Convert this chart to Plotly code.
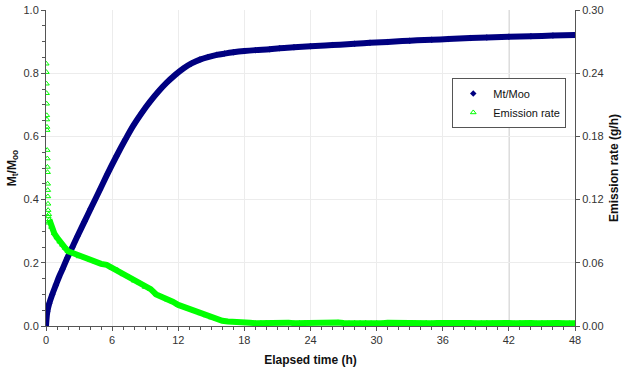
import plotly.graph_objects as go

# ---- data ----
mt_time = [0, 0.12, 0.3, 0.57, 0.9, 1.18, 1.5, 1.93, 2.4, 2.84, 3.5, 4.05, 4.9, 5.6, 6.4, 7.2,
           7.92, 8.7, 9.44, 10.2, 10.95, 11.7, 12.46, 13.2, 13.97, 14.7, 15.5, 16.2, 17.0, 18,
           19, 20.3, 21.2, 22.5, 24, 26, 28, 29.4, 31, 33, 35, 36.5, 38.5, 40, 42, 44, 46, 48]
mt_ratio = [0, 0.045, 0.072, 0.10, 0.13, 0.155, 0.18, 0.215, 0.25, 0.283, 0.331, 0.371, 0.432, 0.483,
            0.538, 0.59, 0.634, 0.675, 0.71, 0.742, 0.77, 0.794, 0.815, 0.831, 0.843, 0.851, 0.858,
            0.862, 0.866, 0.870, 0.873, 0.876, 0.879, 0.882, 0.885, 0.889, 0.893, 0.896, 0.899,
            0.903, 0.906, 0.908, 0.911, 0.913, 0.915, 0.917, 0.919, 0.921]

spike_time = [0.02, 0.03, 0.04, 0.05, 0.06, 0.07, 0.08, 0.09, 0.10, 0.11, 0.12, 0.13, 0.14,
              0.15, 0.16, 0.17, 0.18, 0.19, 0.20, 0.22, 0.25]
spike_rate = [0.249, 0.241, 0.230, 0.221, 0.211, 0.200, 0.196, 0.189, 0.186, 0.167, 0.159,
              0.151, 0.146, 0.135, 0.129, 0.123, 0.116, 0.110, 0.104, 0.098, 0.106]

em_time = [0.3, 0.5, 0.75, 1.0, 1.25, 1.5, 1.75, 2.0, 2.5, 3.0, 3.5, 4.0, 4.5, 5.0, 5.5, 6.0,
           6.5, 7.0, 7.5, 8.0, 8.5, 9.0, 9.5, 10.0, 10.5, 11.0, 11.5, 12.0, 12.5, 13.0, 13.5,
           14.0, 14.5, 15.0, 15.5, 16.0, 16.5, 17.0, 17.5, 18.0,
           18.5, 19.0, 19.5, 20.0, 20.5, 21.0, 21.5, 22.0, 22.5, 23.0,
           23.5, 24.0, 24.5, 25.0, 25.5, 26.0, 26.5, 27.0, 27.5, 28.0,
           28.5, 29.0, 29.5, 30.0, 30.5, 31.0, 31.5, 32.0, 32.5, 33.0,
           33.5, 34.0, 34.5, 35.0, 35.5, 36.0, 36.5, 37.0, 37.5, 38.0,
           38.5, 39.0, 39.5, 40.0, 40.5, 41.0, 41.5, 42.0, 42.5, 43.0,
           43.5, 44.0, 44.5, 45.0, 45.5, 46.0, 46.5, 47.0, 47.5, 48.0]
em_rate = [0.101, 0.094, 0.088, 0.084, 0.080, 0.077, 0.074, 0.071, 0.069, 0.066, 0.065, 0.063,
           0.061, 0.059, 0.058, 0.055, 0.053, 0.049, 0.047, 0.043, 0.041, 0.037, 0.035, 0.030,
           0.028, 0.025, 0.023, 0.020, 0.018, 0.016, 0.014, 0.012, 0.010, 0.008, 0.0065, 0.005,
           0.0042, 0.0036, 0.0032, 0.0030,
           0.0031, 0.0027, 0.0029, 0.0033, 0.0026, 0.0030, 0.0028, 0.0032, 0.0027, 0.0029,
           0.0030, 0.0026, 0.0028, 0.0031, 0.0027, 0.0029, 0.0034, 0.0028, 0.0026, 0.0030,
           0.0028, 0.0031, 0.0027, 0.0029, 0.0026, 0.0030, 0.0028, 0.0033, 0.0027, 0.0029,
           0.0028, 0.0026, 0.0030, 0.0027, 0.0029, 0.0031, 0.0026, 0.0028, 0.0030, 0.0027,
           0.0029, 0.0026, 0.0028, 0.0031, 0.0027, 0.0025, 0.0029, 0.0028, 0.0026, 0.0030,
           0.0027, 0.0028, 0.0026, 0.0029, 0.0027, 0.0025, 0.0028, 0.0026, 0.0027, 0.0026]

x_ticks = [0, 6, 12, 18, 24, 30, 36, 42, 48]
y_ticks = [0.0, 0.2, 0.4, 0.6, 0.8, 1.0]
y2_ticks = [0.00, 0.06, 0.12, 0.18, 0.24, 0.30]
marker_line_x = 42

NAVY = "#000080"
GREEN = "#00FF00"
FONT = "Liberation Sans, Arial, sans-serif"

fig = go.Figure()

# emission rate (right axis)
fig.add_trace(go.Scatter(x=em_time, y=em_rate, mode="lines", yaxis="y2",
                         line=dict(color=GREEN, width=6), showlegend=False, hoverinfo="skip"))
fig.add_trace(go.Scatter(x=spike_time, y=spike_rate, mode="markers", yaxis="y2",
                         marker=dict(symbol="triangle-up-open", color=GREEN, size=5, line=dict(width=1)),
                         showlegend=False))

# Mt/Moo (left axis)
fig.add_trace(go.Scatter(x=mt_time, y=mt_ratio, mode="lines", line=dict(color=NAVY, width=6, shape="spline"),
                         showlegend=False, hoverinfo="skip"))
fig.add_trace(go.Scatter(x=mt_time, y=mt_ratio, mode="markers", name="Mt/Moo",
                         marker=dict(symbol="diamond", color=NAVY, size=5)))
fig.add_trace(go.Scatter(x=em_time, y=em_rate, mode="markers", yaxis="y2", name="Emission rate",
                         marker=dict(symbol="triangle-up-open", color=GREEN, size=5, line=dict(width=1))))

fig.add_shape(type="line", xref="x", yref="paper", x0=marker_line_x, x1=marker_line_x, y0=0, y1=1,
              line=dict(color="#a6a6a6", width=1), layer="below")

axis_common = dict(showline=True, linecolor="#555555", linewidth=1, ticks="outside", ticklen=4,
                   tickcolor="#555555", tickfont=dict(family=FONT, size=11, color="#333333"),
                   zeroline=False, automargin=False)

fig.update_layout(
    width=636, height=373,
    margin=dict(l=46, r=61, t=10, b=47),
    paper_bgcolor="white", plot_bgcolor="white",
    font=dict(family=FONT, size=11, color="#222222"),
    xaxis=dict(range=[0, 48], tickvals=x_ticks, showgrid=True, gridcolor="#ececec",
               minor=dict(dtick=1, ticks="outside", ticklen=3, tickcolor="#555555"),
               title=dict(text="<b>Elapsed time (h)</b>", font=dict(family=FONT, size=12, color="#111111"),
                          standoff=10),
               **axis_common),
    yaxis=dict(range=[0, 1.0], tickvals=y_ticks, tickformat=".1f", showgrid=True, gridcolor="#ececec",
               minor=dict(dtick=0.05, ticks="outside", ticklen=3, tickcolor="#555555"),
               title=dict(text="<b>M<sub>t</sub>/M<sub>oo</sub></b>",
                          font=dict(family=FONT, size=12, color="#111111"), standoff=4),
               **axis_common),
    yaxis2=dict(range=[0, 0.30], tickvals=y2_ticks, tickformat=".2f", overlaying="y", side="right",
                showgrid=False,
                title=dict(text="<b>Emission rate (g/h)</b>", font=dict(family=FONT, size=12, color="#111111"),
                           standoff=6),
                **axis_common),
    legend=dict(x=0.768, y=0.785, xanchor="left", yanchor="top", bgcolor="white",
                bordercolor="#555555", borderwidth=1, font=dict(family=FONT, size=11, color="#111111"),
                tracegroupgap=2, itemwidth=30),
    showlegend=True,
)

fig.write_html("out.html")
